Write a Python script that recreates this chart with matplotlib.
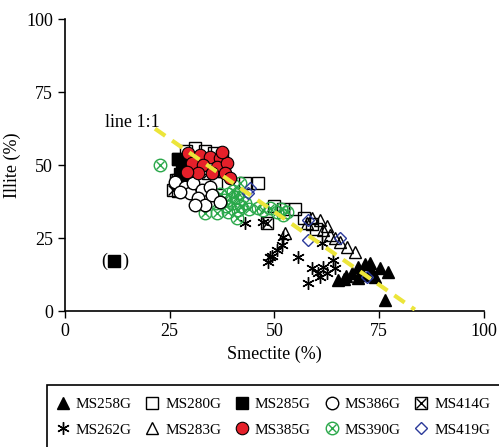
import matplotlib.pyplot as plt
from matplotlib import rcParams
from matplotlib.patches import Rectangle

rcParams.update({
    "font.family": 'serif',
    "font.serif": ['Liberation Serif', 'DejaVu Serif'],
    "font.size": 13,
})

# MS258G filled triangles
ms258_x = [65.2, 68.5, 69.9, 72.8, 71.1, 75.2, 77.1, 74.0, 76.4, 67.0, 70.0, 73.0, 71.5, 66.5]
ms258_y = [10.6, 13.0, 15.1, 16.4, 12.3, 14.7, 13.4, 11.6, 3.8, 12.0, 11.5, 14.0, 16.0, 11.0]
# MS262G asterisks
ms262_x = [43.0, 47.3, 52.0, 51.8, 50.6, 48.9, 48.4, 55.6, 58.9, 60.4, 58.0, 60.9, 64.4, 61.3, 61.6, 64.0, 62.5, 49.5]
ms262_y = [30.1, 30.5, 25.3, 22.6, 20.9, 18.5, 16.8, 18.5, 14.7, 13.0, 9.6, 11.6, 14.7, 23.3, 15.1, 17.5, 13.0, 19.0]
# MS280G open squares
ms280_x = [27.0, 29.0, 31.0, 33.5, 35.5, 37.5, 30.0, 34.0, 38.0, 43.0, 46.0, 50.0, 52.0, 55.0, 57.0, 59.0, 60.0, 27.0, 27.0, 36.0]
ms280_y = [52.0, 55.0, 56.0, 55.0, 54.0, 53.0, 50.0, 49.0, 48.0, 44.0, 44.0, 36.0, 35.0, 35.0, 32.0, 30.0, 28.0, 45.0, 41.0, 44.0]
# MS283G open triangles
ms283_x = [59.0, 61.6, 63.2, 65.6, 67.3, 69.2, 57.8, 60.9, 52.5, 62.5, 64.5]
ms283_y = [31.8, 27.7, 26.0, 23.6, 21.9, 20.2, 30.1, 31.2, 26.7, 29.0, 25.0]
# MS285G filled squares
ms285_x = [27.0, 28.0, 27.5, 29.0, 28.5, 11.7]
ms285_y = [52.0, 50.0, 47.0, 51.0, 45.0, 17.1]
# MS385G red circles
ms385_x = [29.4, 32.2, 34.6, 37.0, 30.3, 32.9, 36.3, 38.7, 38.2, 35.1, 31.7, 29.1, 39.4, 37.5]
ms385_y = [54.1, 53.4, 52.7, 52.4, 50.7, 50.0, 49.3, 50.7, 47.3, 47.3, 47.3, 47.6, 45.5, 54.5]
# MS386G open circles
ms386_x = [26.3, 28.6, 29.8, 30.5, 32.7, 31.7, 33.4, 34.6, 35.1, 37.0, 27.4, 31.0]
ms386_y = [44.2, 42.5, 40.4, 43.8, 41.4, 38.7, 36.3, 42.5, 39.7, 37.3, 40.8, 36.3]
# MS390G green circled crosses
ms390_x = [22.7, 36.3, 41.3, 41.1, 41.8, 48.9, 50.6, 52.0, 47.3, 41.3, 46.1, 33.4,
           38.0, 39.0, 40.0, 41.0, 42.0, 37.0, 38.5, 40.0, 43.0, 44.0, 39.0, 36.0, 51.5, 53.0]
ms390_y = [50.0, 33.6, 34.6, 31.8, 43.8, 35.3, 33.9, 32.9, 34.6, 40.4, 35.3, 33.6,
           38.0, 40.0, 37.0, 39.0, 36.0, 40.0, 36.0, 41.0, 37.0, 35.0, 34.0, 37.0, 35.0, 34.0]
# MS414G boxed crosses
ms414_x = [25.8, 34.1, 48.2, 26.5]
ms414_y = [41.4, 47.3, 30.1, 45.0]
# MS419G blue diamonds
ms419_x = [44.2, 58.0, 58.0, 65.6, 72.1, 43.7]
ms419_y = [42.1, 31.2, 24.3, 25.0, 11.6, 40.4]

line_x = [21.5, 83.5]
line_y = [62.5, 0.5]

fig = plt.figure(figsize=(4.99, 4.47), dpi=100)
ax = fig.add_axes([0.130, 0.304, 0.840, 0.653])

ms = 8
h280, = ax.plot(ms280_x, ms280_y, 's', mfc='none', mec='black', mew=1.0, ms=ms, ls='none')
h285, = ax.plot(ms285_x, ms285_y, 's', mfc='black', mec='black', mew=1.0, ms=ms, ls='none')
b414, = ax.plot(ms414_x, ms414_y, 's', mfc='none', mec='black', mew=1.0, ms=ms, ls='none')
x414, = ax.plot(ms414_x, ms414_y, 'x', mec='black', mew=1.0, ms=ms * 0.95, ls='none')
h283, = ax.plot(ms283_x, ms283_y, '^', mfc='none', mec='black', mew=1.0, ms=ms + 1, ls='none')
h262, = ax.plot(ms262_x, ms262_y, marker=(6, 2, 0), color='black', mew=1.0, ms=ms + 1, ls='none')
h258, = ax.plot(ms258_x, ms258_y, '^', mfc='black', mec='black', ms=ms + 1, ls='none')
c390, = ax.plot(ms390_x, ms390_y, 'o', mfc='none', mec='#2aa84a', mew=1.0, ms=ms + 1, ls='none')
x390, = ax.plot(ms390_x, ms390_y, 'x', mec='#2aa84a', mew=1.0, ms=ms * 0.7, ls='none')
h386, = ax.plot(ms386_x, ms386_y, 'o', mfc='white', mec='black', mew=1.0, ms=ms + 1, ls='none')
h385, = ax.plot(ms385_x, ms385_y, 'o', mfc='#e5202a', mec='black', mew=0.8, ms=ms + 1, ls='none')
h419, = ax.plot(ms419_x, ms419_y, 'D', mfc='none', mec='#2b3a9a', mew=1.0, ms=ms * 0.8, ls='none')

ax.plot(line_x, line_y, color='#ece53a', lw=3, ls=(0, (3, 2)), zorder=5)
ax.text(9.5, 64.7, 'line 1:1', va='center', ha='left', fontsize=13)
ax.text(9.3, 17.1, '(', va='center', ha='center', fontsize=13)
ax.text(14.4, 17.1, ')', va='center', ha='center', fontsize=13)

ax.set_xlim(0, 100)
ax.set_ylim(0, 100)
ax.set_xticks([0, 25, 50, 75, 100])
ax.set_yticks([0, 25, 50, 75, 100])
ax.spines['top'].set_visible(False)
ax.spines['right'].set_visible(False)
ax.spines['left'].set_linewidth(1.2)
ax.spines['bottom'].set_linewidth(1.2)
ax.tick_params(direction='out', length=5, width=1.0, labelsize=13)
ax.set_xlabel('Smectite (%)', fontsize=13)
ax.set_ylabel('Illite (%)', fontsize=13)

handles = [h258, h262, h280, h283, h285, h385, h386, (c390, x390), (b414, x414), h419]
labels = ['MS258G', 'MS262G', 'MS280G', 'MS283G', 'MS285G',
          'MS385G', 'MS386G', 'MS390G', 'MS414G', 'MS419G']
fig.legend(handles, labels, ncol=5, loc='upper left', bbox_to_anchor=(0.089, 0.134),
           frameon=False, fontsize=11, handlelength=1.0, handletextpad=0.35,
           columnspacing=0.85, labelspacing=0.75, borderpad=0.2)
fig.patches.append(Rectangle((0.094, -0.1), 1.0, 0.239, transform=fig.transFigure,
                             fill=False, edgecolor='black', lw=1.2))

plt.savefig('out.png', dpi=100)
